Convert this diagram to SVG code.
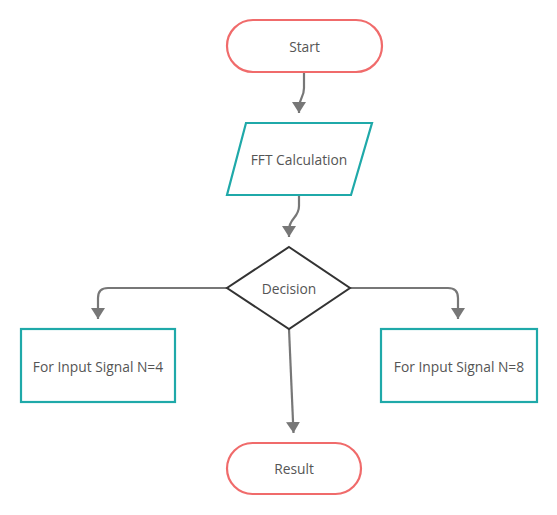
<svg xmlns="http://www.w3.org/2000/svg" width="557" height="515" viewBox="0 0 557 515">
<style>
.term{fill:#fff;stroke:#f06b6b;stroke-width:2.2}
.proc{fill:#fff;stroke:#1fa9a9;stroke-width:2.2}
.dec{fill:#fff;stroke:#333;stroke-width:2}
.lbl{font-family:"Open Sans","Noto Sans",sans-serif;font-size:13.8px;fill:#555;text-anchor:middle;dominant-baseline:central}
.conn{fill:none;stroke:#777;stroke-width:2.2}
</style>
<defs>
<marker id="arr" markerWidth="12" markerHeight="14" refX="11" refY="7" orient="auto" markerUnits="userSpaceOnUse">
<path d="M0,0 L11,7 L0,14 Z" fill="#777"/>
</marker>
</defs>
<rect width="557" height="515" fill="#fff"/>
<g id="connectors">
<path class="conn" d="M304,72 L304,88 C304,98 299,98 299,108 L299,113" marker-end="url(#arr)"/>
<path class="conn" d="M299,195 L299,206 C299,218 289,218 289,230 L289,237" marker-end="url(#arr)"/>
<path class="conn" d="M227,288 L108,288 Q98,288 98,298 L98,319" marker-end="url(#arr)"/>
<path class="conn" d="M350,288 L448,288 Q458,288 458,298 L458,319" marker-end="url(#arr)"/>
<path class="conn" d="M289,329 L293.5,433" marker-end="url(#arr)"/>
</g>
<g id="start">
<rect class="term" x="227" y="20" width="155" height="52" rx="26"/>
<text class="lbl" x="304.5" y="46.5">Start</text>
</g>
<g id="fft">
<polygon class="proc" points="246,123 372,123 351,195 227,195"/>
<text class="lbl" x="299" y="159.5">FFT Calculation</text>
</g>
<g id="decision">
<polygon class="dec" points="289,247 350,288 289,329 227,288"/>
<text class="lbl" x="289" y="288.5">Decision</text>
</g>
<g id="n4">
<rect class="proc" x="21" y="329" width="154" height="73"/>
<text class="lbl" x="98" y="366">For Input Signal N=4</text>
</g>
<g id="n8">
<rect class="proc" x="381" y="329" width="156" height="73"/>
<text class="lbl" x="459" y="366">For Input Signal N=8</text>
</g>
<g id="result">
<rect class="term" x="227" y="443" width="134" height="51" rx="25.5"/>
<text class="lbl" x="294" y="468.5">Result</text>
</g>
</svg>
